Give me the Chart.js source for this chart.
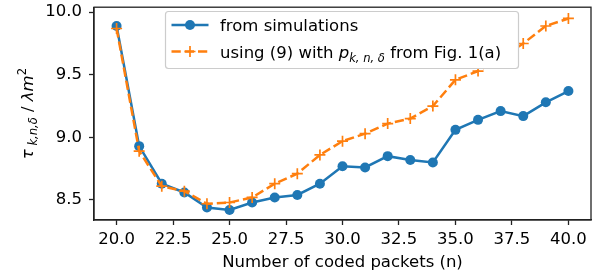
<!DOCTYPE html>
<html lang="en">
<head>
    <meta charset="UTF-8">
    <title>Tau vs coded packets</title>
    <script src="https://cdn.jsdelivr.net/npm/chart.js"></script>
    <style>
        body { margin: 0; background: #fff; }
        canvas { display: block; }
    </style>
</head>
<body>
    <canvas id="chart" width="603" height="279"></canvas>

    <script>
        // values
        const nValues = [20, 21, 22, 23, 24, 25, 26, 27, 28, 29, 30, 31, 32, 33, 34, 35, 36, 37, 38, 39, 40];
        const simValues = [9.89, 8.93, 8.63, 8.56, 8.44, 8.42, 8.48, 8.52, 8.54, 8.63, 8.77, 8.76, 8.85, 8.82, 8.80, 9.06, 9.14, 9.21, 9.17, 9.28, 9.37];
        const formulaValues = [9.87, 8.89, 8.61, 8.57, 8.47, 8.48, 8.52, 8.63, 8.71, 8.86, 8.97, 9.03, 9.11, 9.15, 9.25, 9.46, 9.53, 9.63, 9.75, 9.89, 9.95];
        const xTicks = [20, 22.5, 25, 27.5, 30, 32.5, 35, 37.5, 40];
        const yTicks = [8.5, 9.0, 9.5, 10.0];

        const BLUE = '#1f77b4';
        const ORANGE = '#ff7f0e';
        const FONT = '"DejaVu Sans", sans-serif';
        const FS = 16.5;

        // draws a run of [text, style] pieces, style: 'n' normal, 'i' italic, 'sub', 'sup'
        function drawPieces(ctx, pieces, x, y) {
            for (const [txt, style] of pieces) {
                let size = FS, dy = 0, italic = false;
                if (style === 'i') italic = true;
                if (style === 'sub') { size = FS * 0.7; dy = 4; italic = true; }
                if (style === 'sup') { size = FS * 0.7; dy = -7.5; }
                ctx.font = (italic ? 'italic ' : '') + size + 'px ' + FONT;
                ctx.fillText(txt, x, y + dy);
                x += ctx.measureText(txt).width;
            }
            return x;
        }
        function piecesWidth(ctx, pieces) {
            let w = 0;
            for (const [txt, style] of pieces) {
                const size = (style === 'sub' || style === 'sup') ? FS * 0.7 : FS;
                const italic = style === 'i' || style === 'sub';
                ctx.font = (italic ? 'italic ' : '') + size + 'px ' + FONT;
                w += ctx.measureText(txt).width;
            }
            return w;
        }

        const extras = {
            id: 'extras',
            afterDatasetsDraw(chart) {
                const ctx = chart.ctx;
                const a = chart.chartArea;
                ctx.save();

                // frame around the plot
                ctx.strokeStyle = '#222';
                ctx.lineWidth = 1.3;
                ctx.strokeRect(a.left, a.top, a.right - a.left, a.bottom - a.top);

                // legend box
                const bx = 165.5, by = 11.5, bw = 353, bh = 57, r = 3;
                ctx.beginPath();
                ctx.roundRect(bx, by, bw, bh, r);
                ctx.fillStyle = '#fff';
                ctx.fill();
                ctx.strokeStyle = '#cccccc';
                ctx.lineWidth = 1.2;
                ctx.stroke();

                const row1 = 25, row2 = 51.5;
                ctx.lineWidth = 2.5;
                ctx.strokeStyle = BLUE;
                ctx.beginPath();
                ctx.moveTo(171.5, row1); ctx.lineTo(208.5, row1);
                ctx.stroke();
                ctx.fillStyle = BLUE;
                ctx.beginPath();
                ctx.arc(190, row1, 5, 0, Math.PI * 2);
                ctx.fill();

                ctx.strokeStyle = ORANGE;
                ctx.setLineDash([9.25, 4]);
                ctx.beginPath();
                ctx.moveTo(171.5, row2); ctx.lineTo(208.5, row2);
                ctx.stroke();
                ctx.setLineDash([]);
                ctx.lineWidth = 1.7;
                ctx.beginPath();
                ctx.moveTo(184.5, row2); ctx.lineTo(195.5, row2);
                ctx.moveTo(190, row2 - 5.5); ctx.lineTo(190, row2 + 5.5);
                ctx.stroke();

                ctx.fillStyle = '#000';
                ctx.textBaseline = 'alphabetic';
                ctx.textAlign = 'left';
                drawPieces(ctx, [['from simulations', 'n']], 220, row1 + 6);
                drawPieces(ctx, [
                    ['using (9) with ', 'n'], ['p', 'i'], ['k, n, \u03b4', 'sub'], [' from Fig. 1(a)', 'n']
                ], 220, row2 + 6);

                // y axis title
                const yPieces = [['\u03c4', 'i'], [' k,n,\u03b4', 'sub'], [' / ', 'n'], ['\u03bbm', 'i'], ['2', 'sup']];
                const w = piecesWidth(ctx, yPieces);
                ctx.translate(33, (a.top + a.bottom) / 2);
                ctx.rotate(-Math.PI / 2);
                drawPieces(ctx, yPieces, -w / 2, 0);

                ctx.restore();
            }
        };

        new Chart(document.getElementById('chart').getContext('2d'), {
            type: 'line',
            data: {
                datasets: [
                    {
                        label: 'from simulations',
                        data: nValues.map((n, i) => ({ x: n, y: simValues[i] })),
                        borderColor: BLUE,
                        backgroundColor: BLUE,
                        borderWidth: 2.5,
                        pointRadius: 5,
                        pointBorderWidth: 0,
                        pointBackgroundColor: BLUE,
                        tension: 0,
                        order: 2
                    },
                    {
                        label: 'using (9) with p from Fig. 1(a)',
                        data: nValues.map((n, i) => ({ x: n, y: formulaValues[i] })),
                        borderColor: ORANGE,
                        backgroundColor: ORANGE,
                        borderWidth: 2.5,
                        borderDash: [9.25, 4],
                        pointStyle: 'cross',
                        pointRadius: 5.5,
                        pointBorderWidth: 1.7,
                        pointBorderColor: ORANGE,
                        tension: 0,
                        order: 1
                    }
                ]
            },
            options: {
                responsive: false,
                devicePixelRatio: 1,
                animation: false,
                layout: { padding: { left: 0, right: 12, top: 2, bottom: 0 } },
                plugins: {
                    legend: { display: false },
                    tooltip: { enabled: false }
                },
                scales: {
                    x: {
                        type: 'linear',
                        min: 19,
                        max: 41,
                        afterFit: s => { s.height = 59; s.paddingLeft = 0; s.paddingRight = 0; },
                        afterBuildTicks: s => { s.ticks = xTicks.map(v => ({ value: v })); },
                        grid: { drawOnChartArea: false, color: '#222', tickLength: 5, tickWidth: 1.3 },
                        border: { display: true, color: '#222', width: 1.3 },
                        ticks: {
                            color: '#000',
                            padding: 5,
                            maxRotation: 0,
                            font: { family: FONT, size: FS },
                            callback: v => v.toFixed(1)
                        },
                        title: {
                            display: true,
                            text: 'Number of coded packets (n)',
                            color: '#000',
                            font: { family: FONT, size: FS },
                            padding: { top: 0, bottom: 6 }
                        }
                    },
                    y: {
                        min: 8.34,
                        max: 10.04,
                        afterFit: s => { s.width = 94; s.paddingTop = 0; s.paddingBottom = 0; },
                        afterBuildTicks: s => { s.ticks = yTicks.map(v => ({ value: v })); },
                        grid: { drawOnChartArea: false, color: '#222', tickLength: 5, tickWidth: 1.3 },
                        border: { display: true, color: '#222', width: 1.3 },
                        ticks: {
                            color: '#000',
                            padding: 7,
                            font: { family: FONT, size: FS },
                            callback: v => v.toFixed(1)
                        }
                    }
                }
            },
            plugins: [extras]
        });
    </script>
</body>
</html>
